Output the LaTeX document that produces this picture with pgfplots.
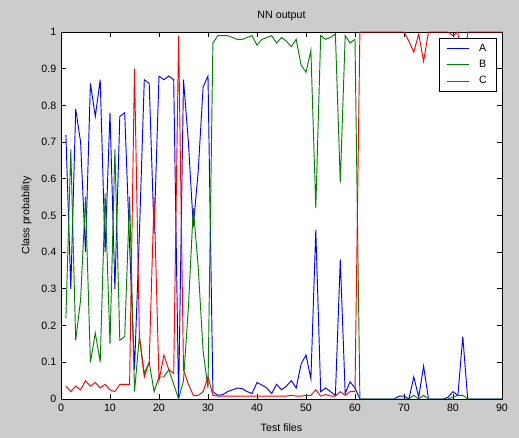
\documentclass[border=0pt]{standalone}
\usepackage{pgfplots}
\usepackage{pgfplotstable}
\pgfplotsset{compat=1.18}
\usepackage{fontspec}
\setmainfont{Liberation Sans}
\definecolor{mgray}{gray}{0.8}
\definecolor{mblue}{rgb}{0,0,1}
\definecolor{mgreen}{rgb}{0,0.5,0}
\definecolor{mred}{rgb}{1,0,0}

\pgfplotstableread{
x A B C
1 0.72 0.22 0.035
2 0.30 0.68 0.02
3 0.79 0.16 0.035
4 0.70 0.27 0.025
5 0.40 0.55 0.05
6 0.86 0.10 0.035
7 0.77 0.18 0.045
8 0.87 0.10 0.03
9 0.40 0.56 0.04
10 0.78 0.15 0.025
11 0.30 0.68 0.02
12 0.77 0.16 0.04
13 0.78 0.17 0.04
14 0.42 0.55 0.04
15 0.08 0.02 0.90
16 0.45 0.17 0.17
17 0.87 0.07 0.06
18 0.86 0.10 0.10
19 0.45 0.02 0.55
20 0.88 0.06 0.05
21 0.87 0.06 0.12
22 0.88 0.08 0.08
23 0.87 0.04 0.07
24 0.00 0.00 0.99
25 0.87 0.05 0.08
26 0.70 0.25 0.04
27 0.47 0.52 0.01
28 0.62 0.36 0.01
29 0.85 0.13 0.02
30 0.88 0.03 0.06
31 0.02 0.97 0.01
32 0.01 0.99 0.008
33 0.012 0.99 0.008
34 0.02 0.99 0.008
35 0.025 0.985 0.008
36 0.03 0.98 0.008
37 0.028 0.98 0.008
38 0.02 0.985 0.008
39 0.015 0.99 0.008
40 0.045 0.964 0.008
41 0.038 0.98 0.008
42 0.03 0.985 0.008
43 0.015 0.99 0.008
44 0.04 0.97 0.008
45 0.025 0.985 0.008
46 0.035 0.975 0.008
47 0.05 0.96 0.01
48 0.03 0.98 0.008
49 0.095 0.91 0.008
50 0.12 0.89 0.01
51 0.055 0.95 0.01
52 0.46 0.52 0.025
53 0.02 0.99 0.008
54 0.03 0.98 0.012
55 0.02 0.985 0.008
56 0.01 0.995 0.008
57 0.38 0.59 0.02
58 0.015 0.99 0.01
59 0.047 0.97 0.02
60 0.03 0.98 0.02
61 0.0 0.0 1.0
62 0.0 0.0 1.0
63 0.0 0.0 1.0
64 0.0 0.0 1.0
65 0.0 0.0 1.0
66 0.0 0.0 1.0
67 0.0 0.0 1.0
68 0.0 0.0 1.0
69 0.008 0.0 1.0
70 0.008 0.0 1.0
71 0.0 0.0 0.975
72 0.06 0.01 0.945
73 0.005 0.0 0.995
74 0.09 0.01 0.92
75 0.0 0.0 1.0
76 0.0 0.0 1.0
77 0.0 0.0 1.0
78 0.0 0.0 1.0
79 0.005 0.0 1.0
80 0.02 0.005 0.99
81 0.01 0.01 1.0
82 0.17 0.01 0.85
83 0.0 0.0 1.0
84 0.0 0.0 1.0
85 0.0 0.0 1.0
86 0.0 0.0 1.0
87 0.0 0.0 1.0
88 0.0 0.0 1.0
89 0.0 0.0 1.0
90 0.0 0.0 1.0
}\nndata

\begin{document}
\begin{tikzpicture}
\useasboundingbox (0,0) rectangle (389.25pt,328.5pt);
\fill[mgray] (0,0) rectangle (389.25pt,328.5pt);
\begin{axis}[
  at={(45.75pt,29.25pt)}, anchor=south west,
  scale only axis, width=330.75pt, height=275.25pt,
  xmin=0, xmax=90, ymin=0, ymax=1,
  xtick={0,10,...,90},
  ytick={0,0.1,0.2,0.3,0.4,0.5,0.6,0.7,0.8,0.9,1},
  yticklabel style={/pgf/number format/fixed, /pgf/number format/precision=1},
  /pgf/number format/assume math mode=true,
  tick align=inside,
  major tick length=3.75pt,
  axis background/.style={fill=white},
  axis line style={black, line width=0.6pt},
  every tick/.style={black, line width=0.6pt},
  tick label style={font=\fontsize{8}{9.6}\selectfont},
  label style={font=\fontsize{8}{9.6}\selectfont},
  title style={font=\fontsize{8}{9.6}\selectfont, at={(axis description cs:0.5,1)}, anchor=center, yshift=6pt},
  title={NN output},
  xlabel={Test files},
  ylabel={Class probability},
  xlabel style={at={(axis description cs:0.5,0)}, anchor=center, yshift=-21.75pt},
  ylabel shift=0.5pt,
  legend style={at={(axis description cs:0.9876,0.9837)}, anchor=north east,
    fill=white, font=\fontsize{8}{9.6}\selectfont,
    inner xsep=5pt, inner ysep=2.3pt, row sep=1.1pt,
    nodes={inner sep=2pt},
    /tikz/every odd column/.append style={column sep=5pt}},
  legend cell align=left,
  every axis plot/.append style={line width=0.7pt},
]
\addplot[mblue] table[x=x, y=A] {\nndata};
\addplot[mgreen] table[x=x, y=B] {\nndata};
\addplot[mred] table[x=x, y=C] {\nndata};
\legend{A\hspace{4pt},B\hspace{4pt},C\hspace{4pt}}
\end{axis}
\end{tikzpicture}
\end{document}
